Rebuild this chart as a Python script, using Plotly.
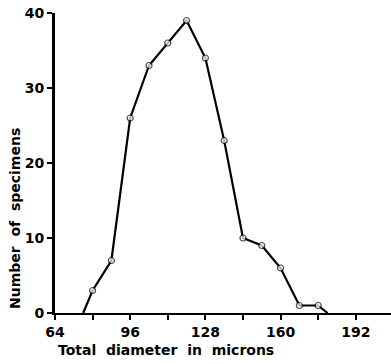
import plotly.graph_objects as go

diameter = [76, 80, 88, 96, 104, 112, 120, 128, 136, 144, 152, 160, 168, 176, 180]
specimens = [0, 3, 7, 26, 33, 36, 39, 34, 23, 10, 9, 6, 1, 1, 0]
x_tick_vals = [64, 80, 96, 112, 128, 144, 160, 176, 192]
x_tick_text = ["64", "", "96", "", "128", "", "160", "", "192"]
y_tick_vals = [0, 10, 20, 30, 40]

font = "DejaVu Sans"
marker_sizes = [0] + [6] * (len(diameter) - 2) + [0]

fig = go.Figure()
fig.add_trace(go.Scatter(
    x=diameter, y=specimens, mode="lines+markers",
    line=dict(color="black", width=2.2),
    marker=dict(symbol="circle", size=marker_sizes, color="white",
                line=dict(color="black", width=1.2)),
    cliponaxis=False, showlegend=False,
))

fig.update_layout(
    width=391, height=364,
    margin=dict(l=55, r=0, t=13, b=51),
    paper_bgcolor="white", plot_bgcolor="white",
    font=dict(family=font, size=14, color="black"),
    xaxis=dict(range=[64, 207], tickvals=x_tick_vals, ticktext=x_tick_text,
               showline=True, linecolor="black", linewidth=2,
               ticks="outside", ticklen=5, tickwidth=1.5, tickcolor="black",
               showgrid=False, zeroline=False,
               tickfont=dict(family=font, size=14, color="black", weight="bold")),
    yaxis=dict(range=[0, 40], tickvals=y_tick_vals,
               showline=True, linecolor="black", linewidth=3,
               ticks="outside", ticklen=5, tickwidth=1.5, tickcolor="black",
               showgrid=False, zeroline=False,
               tickfont=dict(family=font, size=14, color="black", weight="bold")),
    annotations=[
        dict(text="Total  diameter  in  microns", xref="paper", yref="paper",
             x=(166 - 55) / 336, y=-37 / 300, xanchor="center", yanchor="middle",
             showarrow=False,
             font=dict(family=font, size=14, color="black", weight="bold")),
        dict(text="Number  of  specimens", xref="paper", yref="paper",
             x=-40 / 336, y=(313 - 219) / 300, xanchor="center", yanchor="middle",
             textangle=-90, showarrow=False,
             font=dict(family=font, size=14, color="black", weight="bold")),
    ],
)

fig.write_html("out.html")
